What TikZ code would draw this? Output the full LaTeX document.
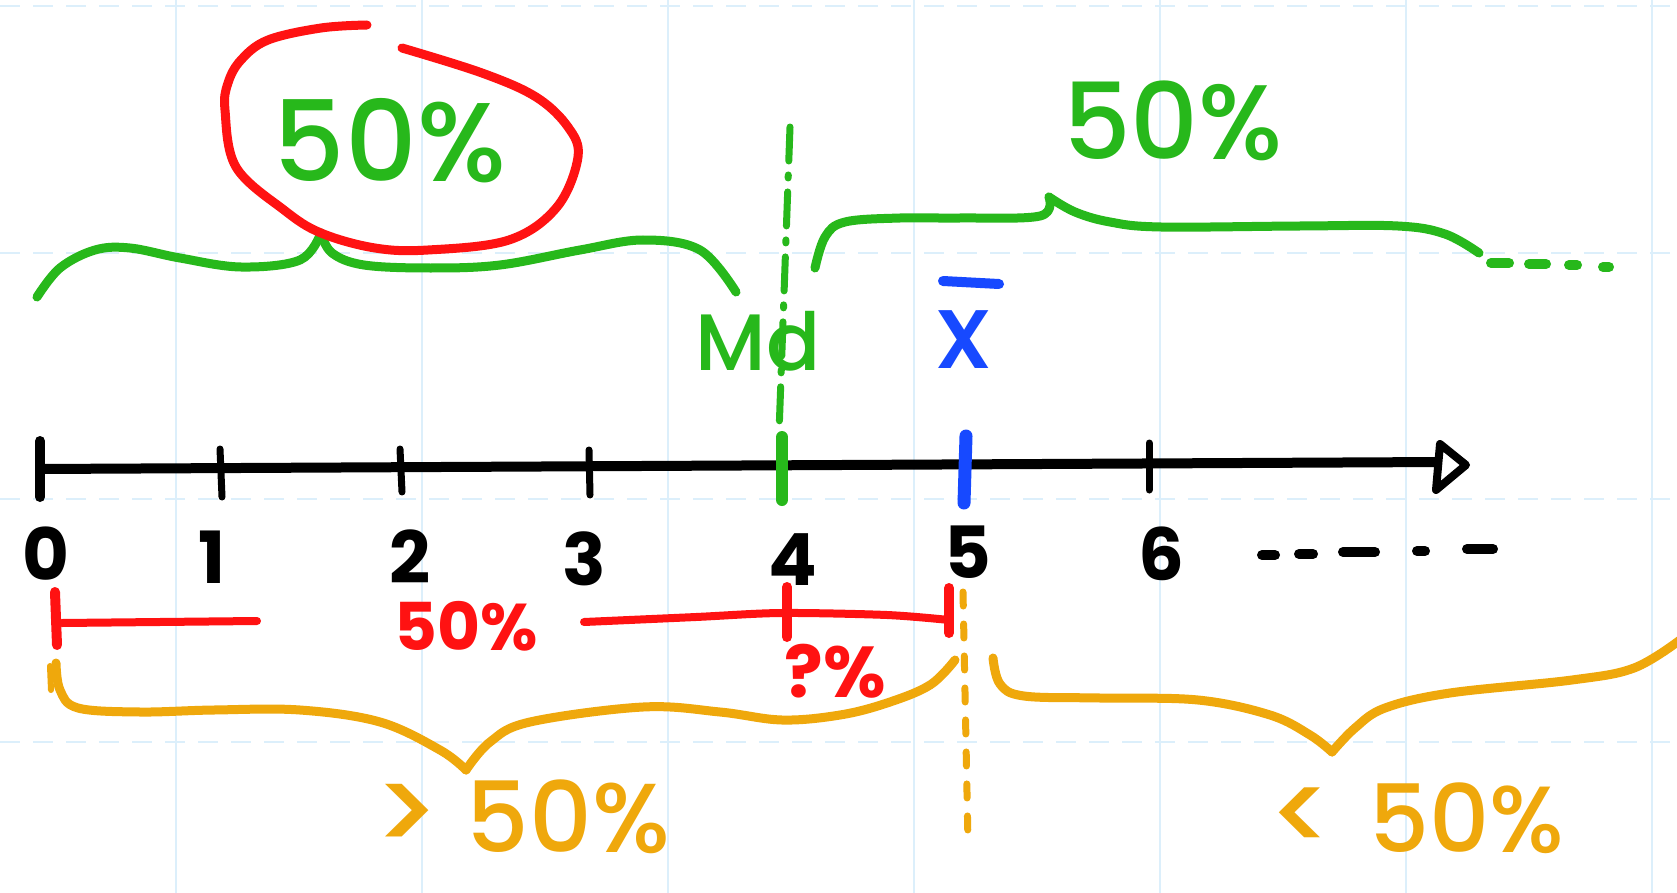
\documentclass[tikz,border=0pt]{standalone}
\usepackage{fontspec}
\setmainfont{Poppins}
\newfontfamily\medfont{Poppins Medium}
\definecolor{hgreen}{HTML}{27B81B}
\definecolor{hred}{HTML}{FF1212}
\definecolor{hblue}{HTML}{1749FF}
\definecolor{horange}{HTML}{EFA80C}
\definecolor{gridblue}{HTML}{DCEFFB}
\begin{document}
\begin{tikzpicture}[x=1pt,y=-1pt,
  pen/.style={line width=9pt,line cap=round,line join=round},
  tickpen/.style={line width=7pt,line cap=round},
  gridv/.style={gridblue,line width=1.5pt},
  gridh/.style={gridblue,line width=2.5pt,dash pattern=on 20pt off 13pt},
  lbl/.style={inner sep=0pt,anchor=base},
  digit/.style={lbl,font=\fontsize{72}{72}\selectfont\bfseries},
  big/.style={lbl,font=\fontsize{110}{110}\medfont}]
\useasboundingbox (0,0) rectangle (1677,893);
\fill[white] (0,0) rectangle (1677,893);
% grid
\foreach \gx in {176,422,668,914,1160,1406,1652} \draw[gridv] (\gx,0) -- (\gx,893);
\foreach \gy in {6,253,499,742} \draw[gridh] (0,\gy) -- (1677,\gy);

% axis
\coordinate (a0) at (40,469);
\coordinate (atip) at (1442,462);
\draw[pen,line width=10pt] (a0) -- (atip);
\draw[line width=8pt,line join=round,fill=white] (1440,444) -- (1466,465) -- (1436,490) -- cycle;
% ticks
\draw[tickpen,line width=10pt] (40,441) -- (40,497);
\draw[tickpen,line width=7pt] (220,449) -- (222,497);
\draw[tickpen,line width=7pt] (400,449) -- (402,492);
\draw[tickpen,line width=7pt] (589,450) -- (590,495);
\draw[tickpen,hgreen,line width=12pt] (782,437) -- (782,500);
\draw[tickpen,hblue,line width=13pt] (966,436) -- (964,503);
\draw[tickpen,line width=7pt] (1149,443) -- (1149,490);

% digits
\node[digit] (n0) at (46,580) {0};
\node[digit] (n1) at (212,583) {1};
\node[digit] (n2) at (410,583) {2};
\node[digit] (n3) at (584,585) {3};
\node[digit] (n4) at (793,585) {4};
\node[digit] (n5) at (968,578) {5};
\node[digit] (n6) at (1161,580) {6};
\foreach \sa/\sb/\sy in {1262/1275/555,1299/1313/554,1343/1375/552,1417/1425/551,1467/1493/549}
  \draw[pen,line width=10pt] (\sa,\sy) -- (\sb,\sy);

% Md dash-dot line and label
\draw[hgreen,line width=7pt,line cap=round,dash pattern=on 34pt off 14pt on 3pt off 14pt] (790,127) -- (779,433);
\node[lbl,hgreen,font=\fontsize{80}{80}\medfont] (md) at (758,370) {Md};

% x bar
\node[lbl,hblue,font=\fontsize{105}{105}\medfont] (xbar) at (964,368) {x};
\draw[hblue,pen,line width=10pt] (943,281) -- (999,284);

% top-left green brace
\draw[hgreen,pen] plot[smooth,tension=0.6] coordinates {(37,297) (60,268) (95,250) (130,248) (180,258) (241,267) (300,260) (321,233)};
\draw[hgreen,pen] plot[smooth,tension=0.6] coordinates {(321,233) (332,253) (364,265) (430,268) (500,265) (580,250) (643,240) (700,250) (736,292)};
% red circle
\draw[hred,pen] plot[smooth,tension=0.6] coordinates {(367,25) (321,28) (268,40) (241,60) (228,83) (225,110) (236,167) (284,210) (321,233) (375,248) (428,250) (509,240) (557,207) (578,157) (568,127) (536,97) (482,73) (402,48)};
\node[big,hgreen,font=\fontsize{112}{112}\medfont] (p50a) at (390,182) {50\%};

% top-right green brace
\draw[hgreen,pen] plot[smooth,tension=0.6] coordinates {(815,268) (825,237) (845,222) (900,218) (960,218) (1040,216) (1049,197)};
\draw[hgreen,pen] plot[smooth,tension=0.6] coordinates {(1049,197) (1075,212) (1110,222) (1161,227) (1300,226) (1398,226) (1445,234) (1479,253)};
\foreach \sa/\sb/\sy in {1491/1509/263,1529/1546/264,1569/1577/265,1603/1609/267}
  \draw[hgreen,pen,line width=10pt] (\sa,\sy) -- (\sb,\sy);
\node[big,hgreen,font=\fontsize{106}{106}\medfont] (p50b) at (1173,160) {50\%};

% red interval
\draw[hred,tickpen,line width=10pt] (55,592) -- (57,645);
\draw[hred,pen,line width=8pt] (62,623) -- (257,621);
\node[lbl,hred,font=\fontsize{66}{66}\selectfont\bfseries] (p50r) at (466,650) {50\%};
\draw[hred,pen,line width=8pt] plot[smooth] coordinates {(584,622) (696,617) (781,613) (887,615) (949,620)};
\draw[hred,tickpen,line width=10pt] (787,587) -- (787,637);
\draw[hred,tickpen,line width=10pt] (949,588) -- (949,633);
\node[lbl,hred,font=\fontsize{72}{72}\selectfont\bfseries] (pq) at (835,697) {?\%};

% orange left brace
\draw[horange,pen,line width=6pt] (50,666) -- (51,690);
\draw[horange,pen] plot[smooth,tension=0.6] coordinates {(56,663) (60,690) (78,708) (140,712) (214,710) (300,710) (380,722) (440,750) (466,770)};
\draw[horange,pen] plot[smooth,tension=0.6] coordinates {(466,770) (490,742) (530,722) (643,707) (720,712) (782,720) (840,715) (887,703) (930,685) (955,660)};
% orange dashed
\draw[horange,line width=7pt,line cap=round,dash pattern=on 14pt off 18pt] (963,592) -- (968,843);
% orange right brace
\draw[horange,pen] plot[smooth,tension=0.6] coordinates {(993,658) (1000,684) (1024,696) (1100,698) (1198,700) (1270,715) (1310,735) (1332,752)};
\draw[horange,pen] plot[smooth,tension=0.6] coordinates {(1332,752) (1355,728) (1385,708) (1450,693) (1572,680) (1634,668) (1680,640)};

% bottom labels
\node[lbl,anchor=base west,horange,font=\fontsize{98}{98}\medfont] (gt) at (372,852) {{\fontsize{116}{116}\selectfont >}\hspace{26pt}50\%};
\node[lbl,anchor=base west,horange,font=\fontsize{94}{94}\medfont] (lt) at (1268,852) {{\fontsize{110}{110}\selectfont <}\hspace{34pt}50\%};
\end{tikzpicture}
\end{document}
